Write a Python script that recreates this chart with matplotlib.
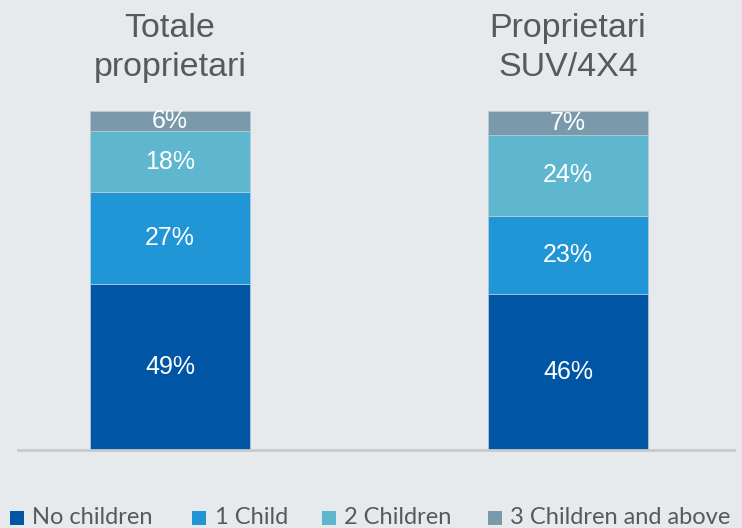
import matplotlib
matplotlib.use('Agg')
import matplotlib.pyplot as plt
from matplotlib.patches import Rectangle
from matplotlib.transforms import blended_transform_factory
import numpy as np

groups = ['Totale\nproprietari', 'Proprietari\nSUV/4X4']
series = ['No children', '1 Child', '2 Children', '3 Children and above']
values = [
	[49, 46],
	[27, 23],
	[18, 24],
	[6, 7],
]
colors = ['#0055A5', '#2196D6', '#5FB7CF', '#7A9AAB']

bg = '#E6EAED'
textgray = '#595959'

W, H = 742, 528
fig = plt.figure(figsize=(W / 100, H / 100), dpi=100, facecolor=bg)
ax = fig.add_axes([0.0, (H - 450) / H, 1.0, (450 - 111) / H])
ax.set_facecolor(bg)

x = np.arange(len(groups))
width = 0.402
bottom = np.zeros(len(groups))
for name, vals, c in zip(series, values, colors):
	vals = np.array(vals)
	ax.bar(x, vals, width, bottom=bottom, color=c, label=name,
		edgecolor='#B8CCD8', linewidth=0.5)
	for xi, v, b0 in zip(x, vals, bottom):
		ax.text(xi, b0 + v / 2, f'{v}%', ha='center', va='center',
			color='white', fontsize=18, family='Liberation Sans')
	bottom = bottom + vals

# group titles above bars, one line at a time (x in data, y in figure)
tr = blended_transform_factory(ax.transData, fig.transFigure)
for xi, g in zip(x, groups):
	for i, line in enumerate(g.split('\n')):
		ax.text(xi, (H - 37 - 39 * i) / H, line, ha='center', va='baseline',
			color=textgray, fontsize=24.5, family='Liberation Sans', transform=tr)

ax.set_xlim(-0.427, 1.437)
ax.set_ylim(0, 100)
ax.axhline(0, xmin=(18 / W), xmax=(734 / W), color='#C6CACC', linewidth=2, clip_on=False)
ax.set_xticks([])
ax.set_yticks([])
for s in ax.spines.values():
	s.set_visible(False)

# legend drawn by hand to match spacing
sq_x = [10, 192, 322, 488]
txt_x = [32, 215, 344, 510]
for name, c, sx, tx in zip(series, colors, sq_x, txt_x):
	fig.patches.append(Rectangle((sx / W, (H - 525) / H), 14 / W, 14 / H,
		transform=fig.transFigure, facecolor=c, edgecolor='none'))
	fig.text(tx / W, (H - 518) / H, name, ha='left', va='center', color=textgray,
		fontsize=17, family='Lato')

fig.savefig('out.png', dpi=100, facecolor=bg)
